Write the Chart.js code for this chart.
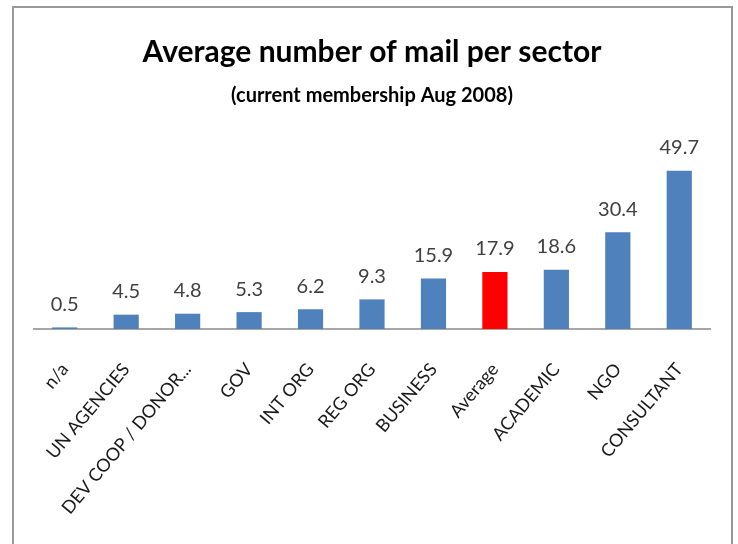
<!DOCTYPE html>
<html>
<head>
<meta charset="utf-8">
<script src="https://cdn.jsdelivr.net/npm/chart.js@4"></script>
<style>
  html, body { margin: 0; padding: 0; background: #fff; }
  body { width: 738px; height: 544px; position: relative; overflow: hidden; }
  #frame { position: absolute; left: 12px; top: 6px; width: 721px; height: 600px; border: 2px solid #999; box-sizing: border-box; }
  #wrap { position: absolute; left: 0; top: 0; width: 738px; height: 544px; }
</style>
</head>
<body>
<div id="frame"></div>
<div id="wrap"><canvas id="c" width="738" height="544"></canvas></div>
<script>
const categories = ["n/a", "UN AGENCIES", "DEV COOP / DONOR...", "GOV", "INT ORG", "REG ORG", "BUSINESS", "Average", "ACADEMIC", "NGO", "CONSULTANT"];
const mailValues = [0.5, 4.5, 4.8, 5.3, 6.2, 9.3, 15.9, 17.9, 18.6, 30.4, 49.7];
const barColors = ["#4F81BD", "#4F81BD", "#4F81BD", "#4F81BD", "#4F81BD", "#4F81BD", "#4F81BD", "#FF0000", "#4F81BD", "#4F81BD", "#4F81BD"];
const titleText = "Average number of mail per sector";
const subtitleText = "(current membership Aug 2008)";

const FONT = "Lato, 'Open Sans', sans-serif";

const valueLabels = {
  id: 'valueLabels',
  afterDatasetsDraw(chart) {
    const ctx = chart.ctx;
    const meta = chart.getDatasetMeta(0);
    ctx.save();
    ctx.font = "20px " + FONT;
    ctx.fillStyle = "#404040";
    ctx.textAlign = "center";
    ctx.textBaseline = "middle";
    meta.data.forEach((bar, i) => {
      ctx.fillText(mailValues[i].toFixed(1), bar.x, bar.y - 23);
    });
    ctx.restore();
  }
};

new Chart(document.getElementById('c'), {
  type: 'bar',
  data: {
    labels: categories,
    datasets: [{
      data: mailValues,
      backgroundColor: barColors,
      borderWidth: 0,
      categoryPercentage: 1.0,
      barPercentage: 0.41
    }]
  },
  options: {
    responsive: false,
    animation: false,
    layout: { padding: { left: 34, right: 28, top: 0, bottom: 0 } },
    plugins: {
      legend: { display: false },
      tooltip: { enabled: false },
      title: {
        display: true,
        text: titleText,
        color: "#000",
        font: { family: FONT, size: 30, weight: 'bold', lineHeight: 1.2 },
        padding: { top: 34, bottom: 14 }
      },
      subtitle: {
        display: true,
        text: subtitleText,
        color: "#000",
        font: { family: FONT, size: 20, weight: 'bold', lineHeight: 1.2 },
        padding: { top: 0, bottom: 30 }
      }
    },
    scales: {
      x: {
        grid: { display: false, drawTicks: false },
        border: { display: true, color: "#a6a6a6", width: 2 },
        ticks: {
          color: "#1a1a1a",
          font: { family: FONT, size: 18 },
          minRotation: 50,
          maxRotation: 50,
          padding: 30,
          autoSkip: false
        },
        afterFit(scale) { scale.height = 544 - 329; }
      },
      y: {
        display: false,
        min: 0,
        max: 60
      }
    }
  },
  plugins: [valueLabels]
});
</script>
</body>
</html>
